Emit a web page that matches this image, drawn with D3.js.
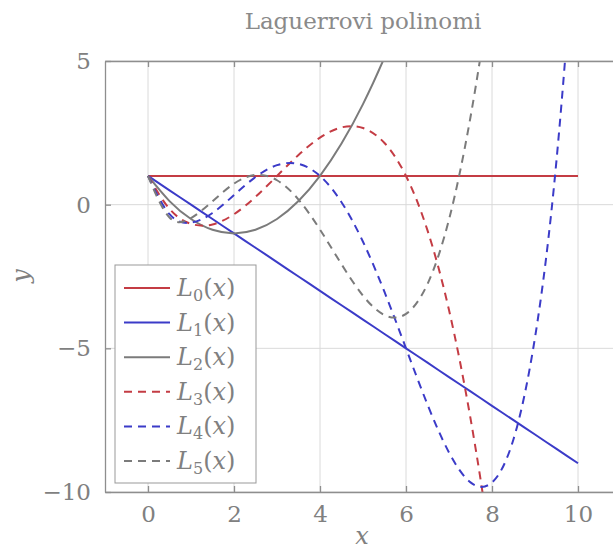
<!DOCTYPE html>
<html>
<head>
<meta charset="utf-8">
<script src="https://cdn.jsdelivr.net/npm/d3@7"></script>
<style>
  body { margin: 0; background: #fff; }
  svg text { font-family: "DejaVu Serif", serif !important; }
</style>
</head>
<body>
<div id="chart-area"></div>
<script>
// sample points x = 0, 0.5, ..., 10
var xs = [0, 0.5, 1, 1.5, 2, 2.5, 3, 3.5, 4, 4.5, 5, 5.5, 6, 6.5, 7, 7.5, 8, 8.5, 9, 9.5, 10];
var L0 = [1, 1, 1, 1, 1, 1, 1, 1, 1, 1, 1, 1, 1, 1, 1, 1, 1, 1, 1, 1, 1];
var L1 = [1, 0.5, 0, -0.5, -1, -1.5, -2, -2.5, -3, -3.5, -4, -4.5, -5, -5.5, -6, -6.5, -7, -7.5, -8, -8.5, -9];
var L2 = [1, 0.125, -0.5, -0.875, -1, -0.875, -0.5, 0.125, 1, 2.125, 3.5, 5.125, 7, 9.125];
var L3 = [1, -0.146, -0.667, -0.688, -0.333, 0.271, 1, 1.729, 2.333, 2.688, 2.667, 2.146, 1, -0.896,
          -3.667, -7.438, -12.333, -18.479];
var L4 = [1, -0.331, -0.625, -0.289, 0.333, 0.961, 1.375, 1.419, 1, 0.086, -1.292, -3.039, -5, -6.956,
          -8.625, -9.664, -9.667, -8.164, -4.625, 1.544, 11];
var L5 = [1, -0.446, -0.467, 0.116, 0.733, 1.033, 0.85, 0.178, -0.867, -2.073, -3.167, -3.844, -3.8, -2.761,
          -0.517, 3.051, 7.933, 13.967];

var seriesNames = ["L0", "L1", "L2", "L3", "L4", "L5"];
var seriesValues = [L0, L1, L2, L3, L4, L5];
var seriesColors = ["#c43c44", "#3b3bc8", "#7b7b7b", "#c43c44", "#3b3bc8", "#7b7b7b"];
var seriesDashed = [false, false, false, true, true, true];

var xTicks = [0, 2, 4, 6, 8, 10];
var yTicks = [-10, -5, 0, 5];

var width = 613;
var height = 552;
var plot = {left: 105, top: 61, right: 621, bottom: 492};

var svg = d3.select('#chart-area')
    .append('svg')
        .attr('width', width)
        .attr('height', height);

var x = d3.scaleLinear()
    .domain([-1, 11])
    .range([plot.left, plot.right]);

var y = d3.scaleLinear()
    .domain([-10, 5])
    .range([plot.bottom, plot.top]);

svg.append("defs").append("clipPath")
    .attr("id", "clip")
    .append("rect")
    .attr("x", plot.left)
    .attr("y", plot.top)
    .attr("width", plot.right - plot.left)
    .attr("height", plot.bottom - plot.top);

// grid
svg.append("g").selectAll("line.gx").data(xTicks).enter()
    .append("line")
    .attr("x1", (d) => x(d)).attr("x2", (d) => x(d))
    .attr("y1", plot.top).attr("y2", plot.bottom)
    .attr("stroke", "#dadada").attr("stroke-width", 1);

svg.append("g").selectAll("line.gy").data(yTicks).enter()
    .append("line")
    .attr("y1", (d) => y(d)).attr("y2", (d) => y(d))
    .attr("x1", plot.left).attr("x2", plot.right)
    .attr("stroke", "#dadada").attr("stroke-width", 1);

// curves
var line = d3.line()
    .x((d) => x(d[0]))
    .y((d) => y(d[1]))
    .curve(d3.curveNatural);

var curves = svg.append("g").attr("clip-path", "url(#clip)");
seriesValues.forEach((vals, i) => {
    var pts = vals.map((v, j) => [xs[j], v]);
    curves.append("path")
        .attr("d", line(pts))
        .attr("fill", "none")
        .attr("stroke", seriesColors[i])
        .attr("stroke-width", 2)
        .attr("stroke-dasharray", seriesDashed[i] ? "8,6" : null);
});

// axes (box style, inward ticks)
var axisColor = "#8e8e8e";
var xAxisB = d3.axisBottom(x).tickValues(xTicks).tickSizeInner(-6).tickSizeOuter(0).tickPadding(14)
    .tickFormat((d) => String(d).replace("-", "\u2212"));
var xAxisT = d3.axisTop(x).tickValues(xTicks).tickSizeInner(-6).tickSizeOuter(0).tickFormat("");
var yAxisL = d3.axisLeft(y).tickValues(yTicks).tickSizeInner(-6).tickSizeOuter(0).tickPadding(14)
    .tickFormat((d) => String(d).replace("-", "\u2212"));

function styleAxis(sel) {
    sel.attr("font-family", null);
    sel.selectAll("path").attr("stroke", axisColor).attr("stroke-width", 1.3);
    sel.selectAll("line").attr("stroke", axisColor).attr("stroke-width", 1.3);
    sel.selectAll("text")
        .attr("fill", "#808080")
        .attr("font-size", "23px");
}

svg.append("g")
    .attr("transform", "translate(0, " + plot.bottom + ")")
    .call(xAxisB)
    .call(styleAxis);

svg.append("g")
    .attr("transform", "translate(0, " + plot.top + ")")
    .call(xAxisT)
    .call(styleAxis);

svg.append("g")
    .attr("transform", "translate(" + plot.left + ", 0)")
    .call(yAxisL)
    .call(styleAxis);

// title and axis labels
svg.append("text")
    .attr("x", 363)
    .attr("y", 29)
    .attr("text-anchor", "middle")
    .attr("font-size", "23px")
    .attr("fill", "#8a8a8a")
    .text("Laguerrovi polinomi");

svg.append("text")
    .attr("x", 362)
    .attr("y", 544)
    .attr("text-anchor", "middle")
    .attr("font-size", "24px")
    .attr("font-style", "italic")
    .attr("fill", "#808080")
    .text("x");

svg.append("text")
    .attr("x", -276)
    .attr("y", 29)
    .attr("transform", "rotate(-90)")
    .attr("text-anchor", "middle")
    .attr("font-size", "24px")
    .attr("font-style", "italic")
    .attr("fill", "#808080")
    .text("y");

// legend
var legend = svg.append("g").attr("transform", "translate(115, 265)");
legend.append("rect")
    .attr("width", 141)
    .attr("height", 218)
    .attr("fill", "#fff")
    .attr("stroke", "#999")
    .attr("stroke-width", 1);

seriesNames.forEach((name, i) => {
    var yy = 23 + i * 34.6;
    legend.append("line")
        .attr("x1", 9).attr("x2", 55)
        .attr("y1", yy).attr("y2", yy)
        .attr("stroke", seriesColors[i])
        .attr("stroke-width", 2)
        .attr("stroke-dasharray", seriesDashed[i] ? "8,6" : null);
    var t = legend.append("text")
        .attr("x", 62)
        .attr("y", yy + 8)
        .attr("font-size", "24px")
        .attr("fill", "#808080");
    t.append("tspan").attr("font-style", "italic").text("L");
    t.append("tspan").attr("font-size", "16px").attr("dy", 5).text(name.slice(1));
    t.append("tspan").attr("dy", -5).text("(");
    t.append("tspan").attr("font-style", "italic").text("x");
    t.append("tspan").text(")");
});
</script>
</body>
</html>
